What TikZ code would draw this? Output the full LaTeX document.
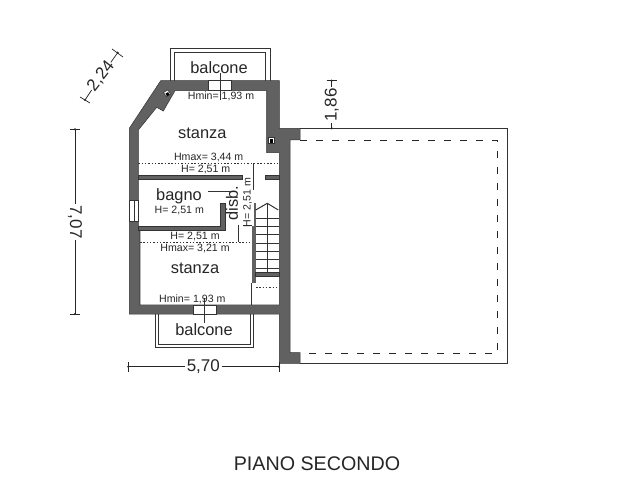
\documentclass[tikz,border=0pt]{standalone}
\usepackage{fontspec}
\setmainfont{Liberation Sans}
\definecolor{wallgray}{gray}{0.38}
\definecolor{inkgray}{gray}{0.2}
\tikzset{
  wall/.style={fill=wallgray,draw=inkgray,line width=0.5pt},
  thinline/.style={draw=inkgray,line width=0.6pt},
  roomtext/.style={inner sep=1pt,text=black!85,font=\fontsize{16.4}{18}\selectfont},
  heighttext/.style={inner sep=1pt,text=black!85,font=\fontsize{10.6}{12}\selectfont},
  dimtext/.style={inner sep=1.5pt,text=black!85,font=\fontsize{17}{19}\selectfont},
  dimline/.style={draw=black!85,line width=0.7pt},
  hdots/.style={draw=inkgray,line width=0.6pt,dash pattern=on 1.5pt off 1.8pt},
  terrace/.style={draw=black!85,line width=1pt,dash pattern=on 7pt off 9pt},
}
\begin{document}
\begin{tikzpicture}[x=1pt,y=-1pt]
\useasboundingbox (0,0) rectangle (627,500);

% balconies
\draw [thinline] (170.7,80.7) -- (170.7,48.3) -- (270,48.3) -- (270,80.7);
\draw [thinline] (174,80.7) -- (174,52.7) -- (265.7,52.7) -- (265.7,80.7);
\draw [thinline] (155,314) -- (155,347.7) -- (253.3,347.7) -- (253.3,314);
\draw [thinline] (158,314) -- (158,344) -- (250,344) -- (250,314);

% walls, then the rooms cut out of them
\draw [wall] (160.7,80.7) -- (279.3,80.7) -- (279.3,128.3) -- (300,128.3) -- (300,140) -- (290,140)
  -- (290,352.7) -- (300,352.7) -- (300,363.3) -- (279.3,363.3) -- (279.3,314) -- (129.3,314) -- (129.3,128.3) -- cycle;
\fill [white] (175,90.7) -- (266.7,90.7) -- (266.7,152.7) -- (279.3,152.7) -- (279.3,305) -- (140,305)
  -- (140,230) -- (138.3,230) -- (138.3,130) -- (156.7,107.3) -- (163.3,111) -- cycle;
\draw [thinline] (175,90.7) -- (266.7,90.7) -- (266.7,152.7) -- (279.3,152.7) -- (279.3,305) -- (140,305)
  -- (140,230) -- (138.3,230) -- (138.3,130) -- (156.7,107.3) -- (163.3,111) -- cycle;

% partitions
\draw [wall] (138.3,175) rectangle (242.3,179);
\draw [wall] (265,175) rectangle (279.3,179);
\draw [wall] (138.3,226) -- (220,226) -- (220,203.3) -- (225,203.3) -- (225,230.7) -- (138.3,230.7) -- cycle;
\fill [wallgray] (251.7,226) rectangle (255.7,283);
\fill [wallgray] (254,203) rectangle (255.7,226);
\draw [wall] (255.7,272.7) rectangle (279.3,276);

% windows and doors
\draw [thinline,fill=white] (208.3,80.7) rectangle (231.7,90.7);
\draw [thinline,fill=white] (193.3,305) rectangle (216,314);
\draw [thinline,fill=white] (129.3,200) rectangle (138.3,221.7);
\draw [thinline] (133.8,200) -- (133.8,221.7);

% flues
\draw [thinline,fill=white,rotate around={30:(167,93.3)}] (164.5,90.8) rectangle (169.5,95.8);
\fill [black,rotate around={30:(167,93.3)}] (165.5,92.8) rectangle (168.5,95.8);
\draw [thinline,fill=white] (268.5,137) rectangle (274,143.5);
\fill [black] (269.5,139.5) rectangle (273,143);

% stairs
\foreach \y in {218,226.3,234.6,242.9,251.2,259.5,267.8}
  \draw [thinline] (255.7,\y) -- (279.3,\y);
\draw [thinline] (267.3,203.3) -- (267.3,272.7);
\draw [thinline,line width=1pt] (255.7,210) -- (267.3,203.3) -- (278.3,210);
\draw [hdots] (256,287) -- (277,287);
\draw [thinline] (251.7,283) -- (251.7,305);

% height lines
\draw [hdots] (138.3,163.3) -- (279.3,163.3);
\draw [hdots] (140,242.3) -- (251.7,242.3);
\draw [thinline] (253.3,163.3) -- (253.3,190);
\draw [thinline] (220.7,73) -- (220.7,100);
\draw [thinline] (204.3,298) -- (204.3,323);
\draw [thinline] (208,191.7) -- (230,191.7);
\draw [thinline] (238.3,225) -- (238.3,241.7);
\draw [thinline] (243,225) -- (251.7,225);

% terrace
\draw [line width=1.2pt,draw=inkgray] (300,128.3) -- (507.6,128.3) -- (507.6,363.3) -- (300,363.3);
\draw [terrace] (300,140.3) -- (497.3,140.3) -- (497.3,353.3) -- (300,353.3);

% room labels
\node [roomtext] (balconeA) at (219,67.5) {balcone};
\node [roomtext] (balconeB) at (204,329.5) {balcone};
\node [roomtext] (stanzaA) at (202.3,133) {stanza};
\node [roomtext] (stanzaB) at (195,268) {stanza};
\node [roomtext] (bagno) at (179,196) {bagno};
\node [roomtext,rotate=90] (disb) at (232,203.3) {disb.};
\node [heighttext] (hminA) at (221,96) {Hmin= 1,93 m};
\node [heighttext] (hmaxA) at (208.7,157.3) {Hmax= 3,44 m};
\node [heighttext] (hA) at (205.7,169.3) {H= 2,51 m};
\node [heighttext] (hB) at (179.3,210.7) {H= 2,51 m};
\node [heighttext] (hC) at (195,236) {H= 2,51 m};
\node [heighttext] (hmaxB) at (195,248) {Hmax= 3,21 m};
\node [heighttext] (hminB) at (192.3,299) {Hmin= 1,93 m};
\node [heighttext,rotate=90] (hD) at (247.7,202.5) {H= 2,51 m};

% dimensions
\coordinate (dimLa) at (75,129.3);
\coordinate (dimLb) at (75,314);
\node [dimtext,rotate=-90] (dimL) at (75,222) {7,07};
\draw [dimline] (dimLa) -- (dimL) -- (dimLb);
\draw [dimline] (70,129.3) -- (80,129.3);
\draw [dimline] (70,314) -- (80,314);

\coordinate (dimBa) at (128.3,366.7);
\coordinate (dimBb) at (279,366.7);
\node [dimtext] (dimB) at (203.3,366.7) {5,70};
\draw [dimline] (dimBa) -- (dimB) -- (dimBb);
\draw [dimline] (128.3,362) -- (128.3,372);
\draw [dimline] (279,362) -- (279,372);

\coordinate (dimTa) at (331.7,80.7);
\coordinate (dimTb) at (331.7,128.3);
\node [dimtext,rotate=90] (dimT) at (331.7,105) {1,86};
\draw [dimline] (dimTa) -- (dimT) -- (dimTb);
\draw [dimline] (326.5,80.7) -- (337,80.7);

\coordinate (dimDa) at (85,100);
\coordinate (dimDb) at (117.7,52.7);
\node [dimtext,rotate=52,inner sep=0pt] (dimD) at (101,76) {2,24};
\draw [dimline] (dimDa) -- (dimD) -- (dimDb);
\draw [dimline] (80,97) -- (90,103);
\draw [dimline] (112,49) -- (123,57);

\foreach \p in {dimLa,dimLb,dimBa,dimBb,dimTa,dimTb,dimDa,dimDb}
  \fill [black!85] (\p) circle (1.2pt);

\node [inner sep=0pt,text=black!85,font=\fontsize{19.7}{22}\selectfont] (title) at (317,464) {PIANO SECONDO};
\end{tikzpicture}
\end{document}
